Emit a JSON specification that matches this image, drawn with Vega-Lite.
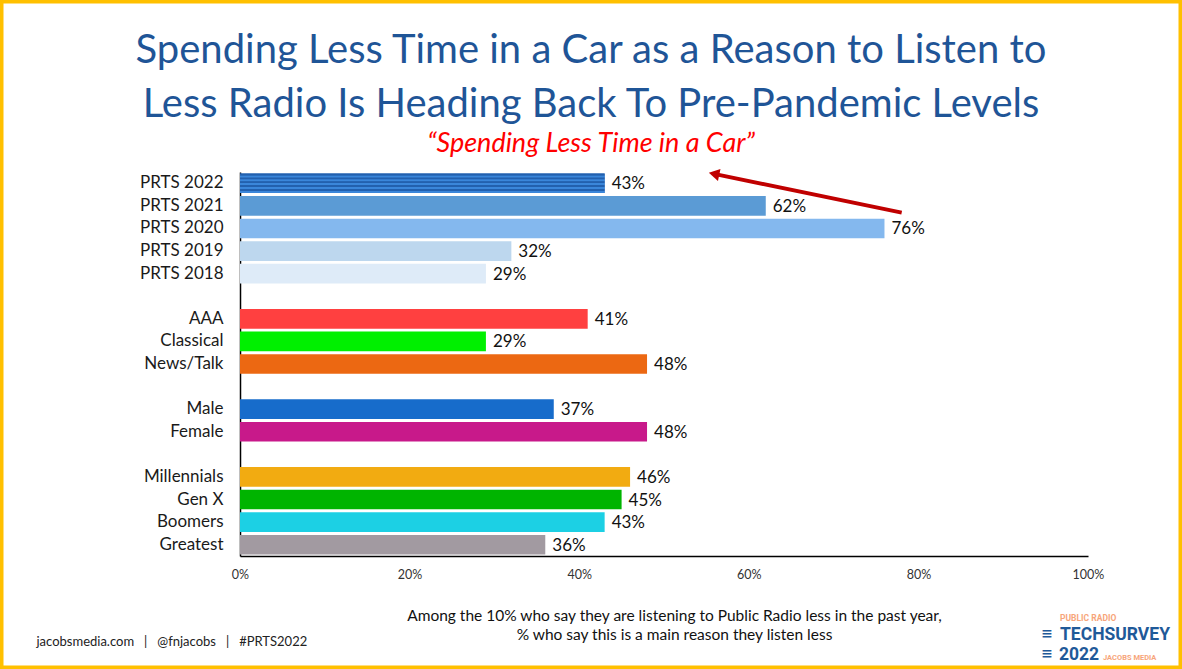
{
  "$schema": "https://vega.github.io/schema/vega-lite/v6.json",
  "width": 1182,
  "height": 669,
  "autosize": {"type": "none"},
  "padding": 0,
  "background": "white",
  "config": {"view": {"stroke": "#FFC000", "strokeWidth": 7}, "font": "Lato"},
  "title": {
    "text": ["Spending Less Time in a Car as a Reason to Listen to", "Less Radio Is Heading Back To Pre-Pandemic Levels"],
    "subtitle": "“Spending Less Time in a Car”",
    "anchor": "middle",
    "frame": "group",
    "offset": -157,
    "font": "Lato",
    "fontSize": 40,
    "fontWeight": "normal",
    "color": "#1F5597",
    "lineHeight": 54,
    "subtitleFont": "Lato",
    "subtitleFontSize": 27,
    "subtitleFontStyle": "italic",
    "subtitleColor": "#FF0000",
    "subtitlePadding": 6
  },
  "datasets": {
    "bars": [
      {"label": "PRTS 2022", "value": 0.43},
      {"label": "PRTS 2021", "value": 0.62},
      {"label": "PRTS 2020", "value": 0.76},
      {"label": "PRTS 2019", "value": 0.32},
      {"label": "PRTS 2018", "value": 0.29},
      {"label": "AAA", "value": 0.41},
      {"label": "Classical", "value": 0.29},
      {"label": "News/Talk", "value": 0.48},
      {"label": "Male", "value": 0.37},
      {"label": "Female", "value": 0.48},
      {"label": "Millennials", "value": 0.46},
      {"label": "Gen X", "value": 0.45},
      {"label": "Boomers", "value": 0.43},
      {"label": "Greatest", "value": 0.36}
    ],
    "arrow": [
      {"x_from": 0.7803, "y_from": 1.8, "x_to": 0.559, "y_to": 0.084}
    ],
    "one": [{"k": 1}]
  },
  "layer": [
    {
      "data": {"name": "bars"},
      "encoding": {
        "y": {
          "field": "label",
          "type": "nominal",
          "sort": null,
          "scale": {
            "domain": ["PRTS 2022", "PRTS 2021", "PRTS 2020", "PRTS 2019", "PRTS 2018", " ", "AAA", "Classical", "News/Talk", "  ", "Male", "Female", "   ", "Millennials", "Gen X", "Boomers", "Greatest"],
            "range": [172, 556],
            "paddingInner": 0.13,
            "paddingOuter": 0.065
          },
          "axis": {
            "orient": "left",
            "offset": -240,
            "ticks": false,
            "grid": false,
            "domainColor": "#000000",
            "domainWidth": 1.5,
            "labelFont": "Lato",
            "labelFontSize": 17,
            "labelColor": "#1a1a1a",
            "labelPadding": 17,
            "labelLimit": 300,
            "title": "jacobsmedia.com\u00a0\u00a0\u00a0|\u00a0\u00a0\u00a0@fnjacobs\u00a0\u00a0\u00a0|\u00a0\u00a0\u00a0#PRTS2022",
            "titleAngle": 0,
            "titleX": -204,
            "titleY": 641,
            "titleAlign": "left",
            "titleBaseline": "middle",
            "titleFont": "Lato",
            "titleFontSize": 13,
            "titleFontWeight": "normal",
            "titleColor": "#222222"
          }
        },
        "x": {
          "field": "value",
          "type": "quantitative",
          "scale": {"domain": [0, 1], "range": [240, 1088]},
          "axis": {
            "orient": "bottom",
            "offset": -113,
            "values": [0, 0.2, 0.4, 0.6, 0.8, 1],
            "format": ".0%",
            "ticks": false,
            "grid": false,
            "labelFlush": false,
            "domainColor": "#000000",
            "domainWidth": 1.5,
            "labelFont": "Lato",
            "labelFontSize": 12.5,
            "labelColor": "#333333",
            "labelPadding": 12,
            "title": ["Among the 10% who say they are listening to Public Radio less in the past year,", "% who say this is a main reason they listen less"],
            "titleX": 674,
            "titleY": 52,
            "titleAlign": "center",
            "titleBaseline": "top",
            "titleFont": "Lato",
            "titleFontSize": 15.5,
            "titleFontWeight": "normal",
            "titleColor": "#111111",
            "titleLineHeight": 19
          }
        }
      },
      "layer": [
        {
          "mark": {"type": "bar"},
          "encoding": {
            "color": {
              "field": "label",
              "type": "nominal",
              "scale": {
                "domain": ["PRTS 2022", "PRTS 2021", "PRTS 2020", "PRTS 2019", "PRTS 2018", "AAA", "Classical", "News/Talk", "Male", "Female", "Millennials", "Gen X", "Boomers", "Greatest"],
                "range": ["#2A6CBB", "#5B9BD5", "#84B8EE", "#BDD7EE", "#DEEBF8", "#FF4040", "#00F000", "#EC6812", "#176CCB", "#C8198A", "#F2AB11", "#00B400", "#1CD0E4", "#A29AA1"]
              },
              "legend": null
            }
          }
        },
        {
          "transform": [{"filter": "datum.label === 'PRTS 2022'"}],
          "mark": {
            "type": "bar",
            "fill": {
              "gradient": "linear",
              "x1": 0, "y1": 0, "x2": 0, "y2": 1,
              "stops": [
                {"offset": 0, "color": "#2260AE"},
                {"offset": 0.1, "color": "#2260AE"},
                {"offset": 0.11, "color": "#3A86DA"},
                {"offset": 0.2, "color": "#3A86DA"},
                {"offset": 0.21, "color": "#2260AE"},
                {"offset": 0.3, "color": "#2260AE"},
                {"offset": 0.31, "color": "#3A86DA"},
                {"offset": 0.4, "color": "#3A86DA"},
                {"offset": 0.41, "color": "#2260AE"},
                {"offset": 0.5, "color": "#2260AE"},
                {"offset": 0.51, "color": "#3A86DA"},
                {"offset": 0.6, "color": "#3A86DA"},
                {"offset": 0.61, "color": "#2260AE"},
                {"offset": 0.7, "color": "#2260AE"},
                {"offset": 0.71, "color": "#3A86DA"},
                {"offset": 0.8, "color": "#3A86DA"},
                {"offset": 0.81, "color": "#2260AE"},
                {"offset": 0.9, "color": "#2260AE"},
                {"offset": 0.91, "color": "#3A86DA"},
                {"offset": 1, "color": "#3A86DA"}
              ]
            }
          }
        },
        {
          "mark": {"type": "text", "align": "left", "baseline": "middle", "dx": 7, "dy": 1, "font": "Lato", "fontSize": 17, "color": "#111111"},
          "encoding": {"text": {"field": "value", "type": "quantitative", "format": ".0%"}}
        }
      ]
    },
    {
      "data": {"name": "arrow"},
      "encoding": {
        "x": {"field": "x_from", "type": "quantitative", "scale": {"domain": [0, 1], "range": [240, 1088]}, "axis": null},
        "y": {"field": "y_from", "type": "quantitative", "scale": {"domain": [0, 17], "range": [172, 556]}, "axis": null}
      },
      "layer": [
        {
          "mark": {"type": "rule", "color": "#C00000", "strokeWidth": 4},
          "encoding": {
            "x2": {"field": "x_to"},
            "y2": {"field": "y_to"}
          }
        },
        {
          "mark": {"type": "point", "shape": "triangle-up", "filled": true, "opacity": 1, "color": "#C00000", "size": 150, "angle": 282},
          "encoding": {
            "x": {"field": "x_to", "type": "quantitative"},
            "y": {"field": "y_to", "type": "quantitative"}
          }
        }
      ]
    },
    {
      "data": {"name": "one"},
      "layer": [
        {"mark": {"type": "text", "text": "PUBLIC RADIO", "font": "Roboto", "fontWeight": "bold", "fontSize": 8.5, "color": "#F7A57A", "align": "left", "baseline": "middle"},
         "encoding": {"x": {"value": 1060}, "y": {"value": 618}}},
        {"mark": {"type": "text", "text": "TECHSURVEY", "font": "Roboto", "fontWeight": "bold", "fontSize": 17.5, "color": "#1F5A99", "align": "left", "baseline": "middle"},
         "encoding": {"x": {"value": 1060}, "y": {"value": 635}}},
        {"mark": {"type": "text", "text": "2022", "font": "Roboto", "fontWeight": "bold", "fontSize": 17.5, "color": "#1F5A99", "align": "left", "baseline": "middle"},
         "encoding": {"x": {"value": 1059}, "y": {"value": 655}}},
        {"mark": {"type": "text", "text": "JACOBS MEDIA", "font": "Roboto", "fontWeight": "bold", "fontSize": 7.5, "color": "#F7A57A", "align": "left", "baseline": "middle"},
         "encoding": {"x": {"value": 1103}, "y": {"value": 658}}},
        {"mark": {"type": "text", "text": "≡", "font": "DejaVu Sans", "fontWeight": "bold", "fontSize": 14, "color": "#1F5A99", "align": "center", "baseline": "middle"},
         "encoding": {"x": {"value": 1047}, "y": {"value": 634}}},
        {"mark": {"type": "text", "text": "≡", "font": "DejaVu Sans", "fontWeight": "bold", "fontSize": 14, "color": "#1F5A99", "align": "center", "baseline": "middle"},
         "encoding": {"x": {"value": 1047}, "y": {"value": 654}}}
      ]
    }
  ],
  "resolve": {"scale": {"x": "independent", "y": "independent", "color": "independent"}}
}
